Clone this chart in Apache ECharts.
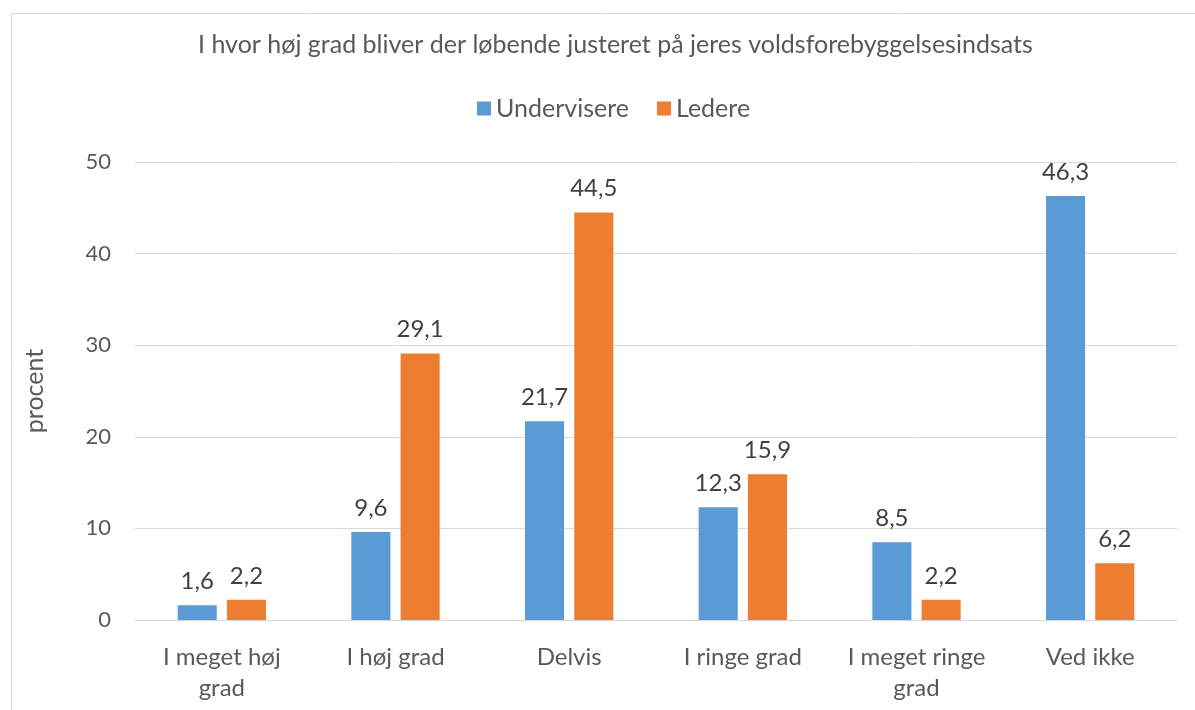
<!DOCTYPE html>
<html>
<head>
<meta charset="utf-8">
<script src="https://cdn.jsdelivr.net/npm/echarts@6/dist/echarts.min.js"></script>
<style>
html,body{margin:0;padding:0;background:#fff;}
#c{width:1195px;height:710px;}
</style>
</head>
<body>
<div id="c"></div>
<script>
const categories = ["I meget høj\ngrad", "I høj grad", "Delvis", "I ringe grad", "I meget ringe\ngrad", "Ved ikke"];
const undervisere = [1.6, 9.6, 21.7, 12.3, 8.5, 46.3];
const ledere = [2.2, 29.1, 44.5, 15.9, 2.2, 6.2];
const yTicks = [0, 10, 20, 30, 40, 50];

const font = "Lato, 'Open Sans', sans-serif";
const chart = echarts.init(document.getElementById('c'), null, {renderer: 'canvas'});
const fmt = p => String(p.value).replace('.', ',');
chart.setOption({
  animation: false,
  backgroundColor: '#fff',
  textStyle: {fontFamily: font},
  graphic: [{
    type: 'rect', left: 9, top: 11, z: -1,
    shape: {width: 1300, height: 800},
    style: {fill: 'none', stroke: '#d9d9d9', lineWidth: 1}
  }],
  title: {
    text: 'I hvor høj grad bliver der løbende justeret på jeres voldsforebyggelsesindsats',
    left: 193, top: 27,
    textStyle: {fontFamily: font, fontSize: 25, fontWeight: 'normal', color: '#595959'}
  },
  legend: {
    top: 91, left: 472, itemWidth: 14, itemHeight: 14, itemGap: 28,
    icon: 'rect',
    textStyle: {fontFamily: font, fontSize: 25, color: '#595959'},
    data: ['Undervisere', 'Ledere']
  },
  grid: {left: 135, right: 18, top: 162, bottom: 90, containLabel: false},
  xAxis: {
    type: 'category', data: categories,
    axisLine: {lineStyle: {color: '#d9d9d9', width: 1}},
    axisTick: {show: false},
    axisLabel: {fontFamily: font, fontSize: 24, color: '#595959', margin: 22, lineHeight: 31, interval: 0}
  },
  yAxis: {
    type: 'value', min: 0, max: 50, interval: 10,
    name: 'procent', nameLocation: 'middle', nameGap: 88, nameRotate: 90,
    nameTextStyle: {fontFamily: font, fontSize: 25, color: '#595959'},
    axisLine: {show: false}, axisTick: {show: false},
    axisLabel: {fontFamily: font, fontSize: 22, color: '#595959', margin: 24,
      formatter: v => yTicks.includes(v) ? String(v) : ''},
    splitLine: {lineStyle: {color: '#d9d9d9', width: 1}}
  },
  series: [
    {name: 'Undervisere', type: 'bar', data: undervisere, barWidth: '22.5%', barGap: '26%',
     itemStyle: {color: '#5b9bd5'},
     label: {show: true, position: 'top', distance: 12, formatter: fmt, fontFamily: font, fontSize: 24, color: '#404040'}},
    {name: 'Ledere', type: 'bar', data: ledere, barWidth: '22.5%',
     itemStyle: {color: '#ed7d31'},
     label: {show: true, position: 'top', distance: 12, formatter: fmt, fontFamily: font, fontSize: 24, color: '#404040'}}
  ]
});
</script>
</body>
</html>
